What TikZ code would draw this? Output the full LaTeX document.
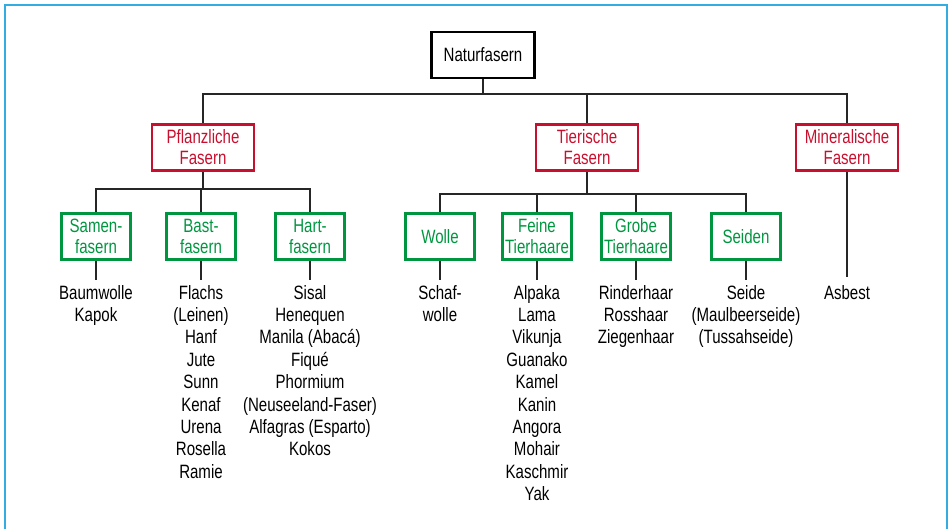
\documentclass[tikz,border=0pt]{standalone}
\usepackage{fontspec}
\setmainfont{Liberation Sans}[FakeStretch=0.78]
\definecolor{frame}{RGB}{52,172,226}
\definecolor{catred}{RGB}{200,16,46}
\definecolor{subgreen}{RGB}{0,150,64}
\begin{document}
\begin{tikzpicture}[x=1pt,y=-1pt,
  every node/.style={font=\fontsize{19.3}{22.4}\selectfont},
  boxfont/.style={font=\fontsize{19.3}{21}\selectfont},
  rootbox/.style={boxfont, draw=black, line width=2.6pt, inner sep=0pt, minimum width=103pt, minimum height=46pt},
  catbox/.style={boxfont, draw=catred, text=catred, line width=2.6pt, inner sep=0pt, align=center, minimum width=102pt, minimum height=46.5pt},
  subbox/.style={boxfont, draw=subgreen, text=subgreen, line width=2.6pt, inner sep=0pt, align=center, minimum width=69pt, minimum height=46.5pt},
  item/.style={align=center, anchor=north, inner xsep=0pt, inner ysep=2pt},
  conn/.style={line width=1.3pt, draw=black!85}
]
\useasboundingbox (0,0) rectangle (950,528);
\clip (0,0) rectangle (950,528);
\draw[frame, line width=2pt] (4.5,5) rectangle (947,545);

% root
\node[rootbox] (root) at (483,55) {Naturfasern};
% categories
\node[catbox] (pf) at (203,147.5) {Pflanzliche\\Fasern};
\node[catbox] (ti) at (587,147.5) {Tierische\\Fasern};
\node[catbox] (mi) at (847,147.5) {Mineralische\\Fasern};
% sub categories
\node[subbox] (sa) at (96,236.5) {Samen-\\fasern};
\node[subbox] (ba) at (201,236.5) {Bast-\\fasern};
\node[subbox] (ha) at (310,236.5) {Hart-\\fasern};
\node[subbox] (wo) at (440,236.5) {Wolle};
\node[subbox] (fe) at (537,236.5) {Feine\\Tierhaare};
\node[subbox] (gr) at (636,236.5) {Grobe\\Tierhaare};
\node[subbox] (se) at (746,236.5) {Seiden};

% items
\node[item] (isa) at (96,283) {Baumwolle\\Kapok};
\node[item] (iba) at (201,283) {Flachs\\(Leinen)\\Hanf\\Jute\\Sunn\\Kenaf\\Urena\\Rosella\\Ramie};
\node[item] (iha) at (310,283) {Sisal\\Henequen\\Manila (Abacá)\\Fiqué\\Phormium\\(Neuseeland-Faser)\\Alfagras (Esparto)\\Kokos};
\node[item] (iwo) at (440,283) {Schaf-\\wolle};
\node[item] (ife) at (537,283) {Alpaka\\Lama\\Vikunja\\Guanako\\Kamel\\Kanin\\Angora\\Mohair\\Kaschmir\\Yak};
\node[item] (igr) at (636,283) {Rinderhaar\\Rosshaar\\Ziegenhaar};
\node[item] (ise) at (746,283) {Seide\\(Maulbeerseide)\\(Tussahseide)};
\node[item] (imi) at (847,283) {Asbest};

% connectors level 1
\coordinate (j1) at (483,94);
\draw[conn] (root.south) -- (j1);
\draw[conn] (pf.north) |- (j1) -| (mi.north);
\draw[conn] (ti.north) -- (ti.north |- j1);
% level 2 (Pflanzliche)
\coordinate (j2) at (203,189);
\draw[conn] (pf.south) -- (j2);
\draw[conn] (sa.north) |- (j2) -| (ha.north);
\draw[conn] (ba.north) -- (ba.north |- j2);
% level 2 (Tierische)
\coordinate (j3) at (587,194);
\draw[conn] (ti.south) -- (j3);
\draw[conn] (wo.north) |- (j3) -| (se.north);
\draw[conn] (fe.north) -- (fe.north |- j3);
\draw[conn] (gr.north) -- (gr.north |- j3);
% items
\draw[conn, shorten >=3pt] (sa.south) -- (isa.north);
\draw[conn, shorten >=3pt] (ba.south) -- (iba.north);
\draw[conn, shorten >=3pt] (ha.south) -- (iha.north);
\draw[conn, shorten >=3pt] (wo.south) -- (iwo.north);
\draw[conn, shorten >=3pt] (fe.south) -- (ife.north);
\draw[conn, shorten >=3pt] (gr.south) -- (igr.north);
\draw[conn, shorten >=3pt] (se.south) -- (ise.north);
\draw[conn, shorten >=6pt] (mi.south) -- (imi.north);
\end{tikzpicture}
\end{document}
